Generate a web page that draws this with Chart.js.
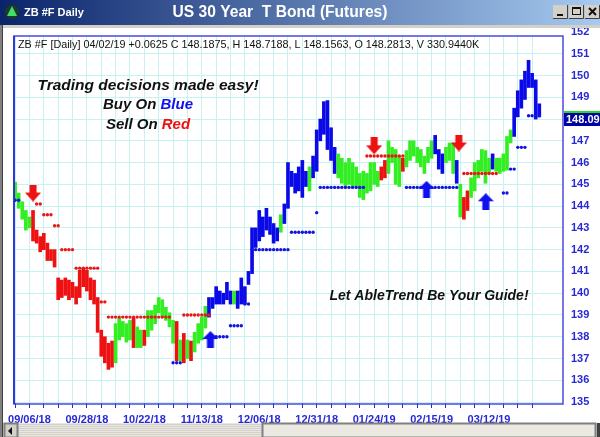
<!DOCTYPE html>
<html>
<head>
<meta charset="utf-8">
<script src="https://cdn.jsdelivr.net/npm/chart.js@4.4.1/dist/chart.umd.min.js"></script>
<style>
  html, body { margin: 0; padding: 0; background: #fff; }
  #wrap { width: 600px; height: 437px; }
</style>
</head>
<body>
<div id="wrap"><canvas id="myChart" width="600" height="437"></canvas></div>
<script>
// daily bars, index 0 = 08/30/18 ... 146 = 04/02/19
const highs = [
  145.1,144.6,144.2,143.8,143.5,143.8,142.9,142.6,142.75,142.3,142.0,142.0,140.7,140.6,140.7,140.6,140.5,140.3,141.05,141.15,
  141.05,140.7,140.6,139.8,138.3,138.0,137.7,137.8,138.6,138.85,138.7,138.6,138.75,138.85,138.45,138.3,138.3,139.2,139.2,139.45,
  139.8,139.7,139.35,139.1,138.75,138.7,137.85,138.15,137.85,137.8,138.2,138.6,138.9,139.4,139.8,139.8,140.3,140.1,140.0,140.5,
  140.1,140.1,140.1,140.7,140.3,141.0,143.0,143.0,143.8,143.5,143.9,143.5,143.2,143.0,143.6,144.1,146.0,145.6,145.5,145.8,
  146.1,145.6,145.8,146.3,147.5,148.0,148.8,148.85,147.6,146.7,146.4,146.2,146.0,146.2,146.0,145.8,145.5,145.6,145.5,146.0,
  146.0,145.6,145.8,146.1,147.0,146.7,146.6,146.3,146.2,146.55,147.0,147.0,146.7,146.6,146.3,146.7,147.0,147.25,146.6,146.4,
  146.7,146.9,146.9,146.1,145.0,144.4,144.7,145.3,146.0,146.1,146.6,146.55,146.2,146.4,146.2,146.2,146.4,147.2,147.5,148.5,
  149.3,149.8,150.2,150.7,150.1,149.8,148.7
];
const lows = [
  144.3,143.9,143.4,142.9,143.0,142.4,142.3,141.9,142.0,141.5,141.5,141.2,139.7,139.8,139.9,139.7,139.8,139.5,139.8,140.3,
  140.1,139.7,139.5,138.2,137.1,136.8,136.5,136.6,136.8,137.85,138.0,137.75,137.85,137.5,137.5,137.5,137.6,138.0,138.3,138.6,
  139.1,138.9,138.75,138.45,137.7,136.9,136.9,136.8,137.0,136.9,137.3,137.7,137.85,138.4,138.9,139.3,139.5,139.5,139.5,139.7,
  139.5,139.5,139.3,139.5,139.5,140.4,140.9,142.1,142.4,142.6,142.9,142.7,142.3,142.4,142.8,143.2,143.9,144.9,144.6,144.7,
  144.4,144.9,144.7,145.3,145.6,147.0,147.3,146.6,146.1,145.5,145.3,145.05,144.9,145.0,144.9,144.9,144.4,144.3,144.6,144.7,
  145.0,144.9,145.2,145.3,145.5,146.0,145.0,144.9,145.6,145.8,146.1,146.3,146.0,145.8,145.5,146.0,146.2,146.4,145.7,145.5,
  146.0,146.1,145.5,145.05,143.5,143.4,143.8,144.4,144.7,145.3,145.6,145.05,145.5,145.7,145.6,145.5,145.6,145.65,146.9,147.2,
  148.1,148.5,148.9,149.45,149.45,148.0,148.1
];
// B = buy (blue), G = neutral (green), R = sell (red)
const barColor = (
  'GGGGGRRRRRRRRRRRRRRRRRRRRRRRGGGGGRGGRGGGGGGGGRGRGRGGGGBBBBBBBGBBBBBBBBBBBBGBBBBBBBGBBBBBBBGGGGGGGGGGGGRRGGGGRGGGGGGGGBBBGGGBGRRGGGGGGBGGGGGBBBBBBBBGG'
).split('');

// stop dots: [from, to, level]
const redStops = [[6,7,144.1],[8,10,143.6],[11,12,143.1],[13,16,142.0],[17,23,141.15],[24,25,139.6],[26,43,138.9],[47,54,139.0],[98,108,146.3],[125,134,145.5]];
const blueStops = [[0,1,144.27],[44,46,136.8],[56,59,138.0],[60,63,138.5],[64,65,139.5],[66,76,142.0],[77,83,142.8],[84,84,143.7],[85,97,144.86],[109,123,144.86],[136,137,144.6],[138,139,145.7],[140,142,146.7],[143,146,148.15]];

// signal arrows
const sellArrows = [{x:5, y:144.6},{x:100, y:146.77},{x:123.6, y:146.9}];
const buyArrows = [{x:54.4, y:137.87},{x:114.6, y:144.77},{x:131.1, y:144.2}];

const tickIdx = [4,20,36,52,68,84,100,116,132];
const tickLabels = ['09/06/18','09/28/18','10/22/18','11/13/18','12/06/18','12/31/18','01/24/19','02/15/19','03/12/19'];

const palette = { B: '#0a0ae8', G: '#33ee22', R: '#ee1111' };
const axisBlue = '#2828d4';
const FONT = '"Liberation Sans", Arial, sans-serif';

function stopPoints(segs) {
  const pts = [];
  segs.forEach(s => { for (let i = s[0]; i <= s[1]; i++) pts.push({x: i, y: s[2]}); });
  return pts;
}

function makeArrow(color, up) {
  const c = document.createElement('canvas');
  c.width = 16; c.height = 17;
  const g = c.getContext('2d');
  g.fillStyle = color;
  g.beginPath();
  if (up) {
    g.moveTo(8,0); g.lineTo(16,8); g.lineTo(11.5,8); g.lineTo(11.5,17); g.lineTo(4.5,17); g.lineTo(4.5,8); g.lineTo(0,8);
  } else {
    g.moveTo(4.5,0); g.lineTo(11.5,0); g.lineTo(11.5,8); g.lineTo(16,8); g.lineTo(8,17); g.lineTo(0,8); g.lineTo(4.5,8);
  }
  g.closePath();
  g.fill();
  return c;
}

const chrome = {
  id: 'chrome',
  beforeDraw(chart) {
    const c = chart.ctx;
    c.save();
    c.fillStyle = '#fff';
    c.fillRect(0, 0, 600, 437);
    c.restore();
  },
  beforeDatasetsDraw(chart) {
    // grid above the frame top is not shown
    const c = chart.ctx;
    c.save();
    c.fillStyle = '#fff';
    c.fillRect(13, 27, 552, 9);
    c.restore();
  },
  afterDraw(chart) {
    const c = chart.ctx;
    c.save();
    // plot frame
    c.strokeStyle = '#4a4ae0';
    c.lineWidth = 1.5;
    c.strokeRect(14, 36, 549, 368);
    c.strokeStyle = '#2020d0';
    c.beginPath(); c.moveTo(14, 36); c.lineTo(14, 404); c.stroke();

    // header line
    c.fillStyle = '#111';
    c.font = '10.8px ' + FONT;
    c.textBaseline = 'middle';
    c.textAlign = 'left';
    c.fillText('ZB #F [Daily] 04/02/19 +0.0625 C 148.1875, H 148.7188, L 148.1563, O 148.2813, V 330.9440K', 18, 45);

    // slogans
    c.font = 'italic bold 15.5px ' + FONT;
    c.textAlign = 'center';
    c.fillText('Trading decisions made easy!', 148, 86);
    const two = (a, b, col, y) => {
      c.textAlign = 'left';
      const w1 = c.measureText(a).width, w2 = c.measureText(b).width;
      const x0 = 148 - (w1 + w2) / 2;
      c.fillStyle = '#111'; c.fillText(a, x0, y);
      c.fillStyle = col; c.fillText(b, x0 + w1, y);
    };
    c.font = 'italic bold 15px ' + FONT;
    two('Buy On ', 'Blue', '#1010ee', 105);
    two('Sell On ', 'Red', '#ee1111', 125);
    c.fillStyle = '#111';
    c.textAlign = 'center';
    c.font = 'italic bold 14px ' + FONT;
    c.fillText('Let AbleTrend Be Your Guide!', 429, 296);

    // last price box
    c.fillStyle = '#22dd22';
    c.fillRect(564, 111, 36, 2);
    c.fillStyle = '#0000a8';
    c.fillRect(564, 113, 36, 13);
    c.fillStyle = '#fffff0';
    c.font = 'bold 11px ' + FONT;
    c.textAlign = 'left';
    c.fillText('148.09', 566, 120);

    // title bar
    const grad = c.createLinearGradient(0, 0, 600, 0);
    grad.addColorStop(0, '#0a246a');
    grad.addColorStop(1, '#a6caf0');
    c.fillStyle = grad;
    c.fillRect(0, 0, 600, 25);
    c.fillStyle = '#d4d0c8';
    c.fillRect(0, 25, 600, 3);
    // icon
    c.fillStyle = '#1a3a2a';
    c.beginPath(); c.arc(12, 12, 7, 0, Math.PI * 2); c.fill();
    c.fillStyle = '#44dd66';
    c.beginPath(); c.moveTo(12, 6); c.lineTo(17, 16); c.lineTo(7, 16); c.closePath(); c.fill();
    c.fillStyle = '#fff';
    c.font = 'bold 11px ' + FONT;
    c.fillText('ZB #F Daily', 24, 13);
    c.font = 'bold 15.6px ' + FONT;
    c.textAlign = 'center';
    c.fillText('US 30 Year  T Bond (Futures)', 280, 13);
    // window buttons
    [553, 569, 585].forEach((bx, k) => {
      c.fillStyle = '#d4d0c8';
      c.fillRect(bx, 5, 15, 14);
      c.strokeStyle = '#404040'; c.lineWidth = 1;
      c.beginPath(); c.moveTo(bx + 14.5, 5); c.lineTo(bx + 14.5, 18.5); c.lineTo(bx, 18.5); c.stroke();
      c.strokeStyle = '#111';
      if (k === 0) { c.fillStyle = '#111'; c.fillRect(bx + 4, 14, 6, 2); }
      if (k === 1) { c.strokeRect(bx + 3.5, 7.5, 8, 7); c.fillStyle = '#111'; c.fillRect(bx + 3, 7, 9, 2); }
      if (k === 2) { c.beginPath(); c.moveTo(bx + 4, 8); c.lineTo(bx + 11, 15); c.moveTo(bx + 11, 8); c.lineTo(bx + 4, 15); c.lineWidth = 2; c.stroke(); }
    });

    // left window edge
    c.fillStyle = '#808080';
    c.fillRect(0, 25, 2, 412);
    c.fillStyle = '#404040';
    c.fillRect(2, 25, 1, 412);

    // scrollbar
    c.fillStyle = '#d4d0c8';
    c.fillRect(3, 423, 597, 14);
    for (let x = 18; x < 262; x += 2) {
      for (let y = 423; y < 437; y += 2) {
        c.fillStyle = '#ffffff';
        c.fillRect(x + ((y / 2) % 2), y, 1, 1);
      }
    }
    c.fillStyle = '#ece9e2';
    c.fillRect(263, 424, 332, 13);
    c.strokeStyle = '#808080';
    c.strokeRect(262.5, 423.5, 333, 14);
    c.strokeRect(4.5, 423.5, 13, 14);
    c.fillStyle = '#111';
    c.beginPath(); c.moveTo(8, 431); c.lineTo(12, 427); c.lineTo(12, 435); c.closePath(); c.fill();
    c.fillStyle = '#404040';
    c.fillRect(597, 423, 3, 14);
    c.restore();
  }
};

const data = {
  datasets: [
    {
      type: 'scatter',
      data: sellArrows,
      pointStyle: makeArrow('#ee1111', false),
      pointRadius: 8,
      clip: false,
      order: 0
    },
    {
      type: 'scatter',
      data: buyArrows,
      pointStyle: makeArrow('#1010ee', true),
      pointRadius: 8,
      clip: false,
      order: 0
    },
    {
      type: 'scatter',
      data: stopPoints(redStops),
      backgroundColor: '#e81818',
      borderWidth: 0,
      pointRadius: 1.7,
      order: 1
    },
    {
      type: 'scatter',
      data: stopPoints(blueStops),
      backgroundColor: '#1414e0',
      borderWidth: 0,
      pointRadius: 1.7,
      order: 1
    },
    {
      type: 'bar',
      data: highs.map((h, i) => ({x: i, y: [lows[i], h]})),
      backgroundColor: barColor.map(c => palette[c]),
      barThickness: 3,
      order: 2
    }
  ]
};

const config = {
  type: 'bar',
  data: data,
  options: {
    responsive: false,
    animation: false,
    layout: { padding: { left: 14, top: 32, right: 0, bottom: 13 } },
    plugins: {
      legend: { display: false },
      tooltip: { enabled: false }
    },
    scales: {
      x: {
        type: 'linear',
        offset: false,
        min: -0.3,
        max: 152.6,
        afterBuildTicks: (scale) => {
          const t = [];
          for (let v = 0; v <= 144; v += 4) t.push({value: v});
          scale.ticks = t;
        },
        afterFit: (scale) => { scale.height = 22; },
        ticks: {
          autoSkip: false,
          maxRotation: 0,
          padding: 5,
          color: axisBlue,
          font: { family: FONT, size: 11, weight: 'bold' },
          callback: (v) => {
            const k = tickIdx.indexOf(v);
            return k >= 0 ? tickLabels[k] : '';
          }
        },
        grid: { color: '#c6f2f2', tickColor: axisBlue, tickLength: 6, lineWidth: 1, offset: false },
        border: { display: false }
      },
      y: {
        type: 'linear',
        position: 'right',
        min: 135,
        max: 152,
        afterFit: (scale) => { scale.width = 37; },
        ticks: {
          stepSize: 1,
          padding: 8,
          color: axisBlue,
          font: { family: FONT, size: 11, weight: 'bold' }
        },
        grid: { color: '#c6f2f2', drawTicks: false },
        border: { display: false }
      }
    }
  },
  plugins: [chrome]
};

const myChart = new Chart(document.getElementById('myChart'), config);
</script>
</body>
</html>
